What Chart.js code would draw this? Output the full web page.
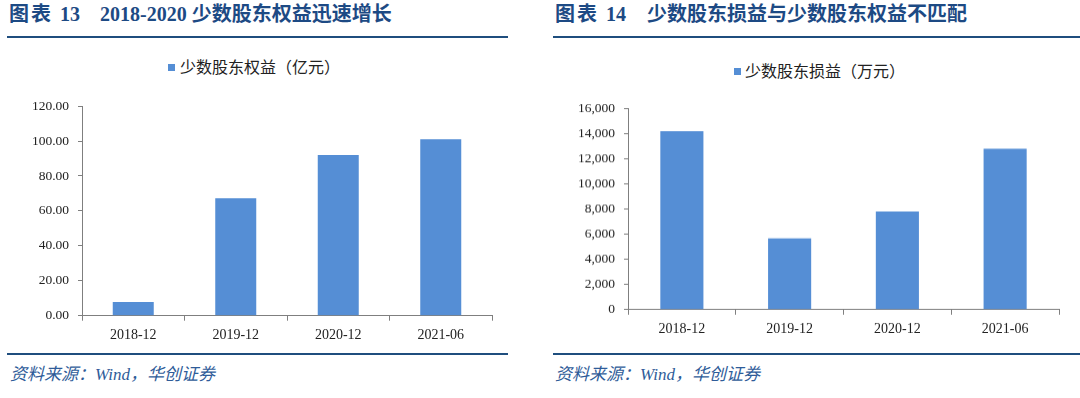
<!DOCTYPE html>
<html>
<head>
<meta charset="utf-8">
<script src="https://cdn.jsdelivr.net/npm/chart.js@4/dist/chart.umd.min.js"></script>
<style>
  body { margin: 0; width: 1080px; height: 398px; background: #fff; position: relative; overflow: hidden; }
  .abs { position: absolute; white-space: nowrap; }
  .title { font-family: "Liberation Serif", "Noto Sans CJK SC", serif; font-weight: bold; font-size: 20px; color: #1d4a84; line-height: 20px; }
  .rule { position: absolute; height: 2px; background: #1f4e7e; }
  .legend { font-family: "Liberation Serif", "Noto Sans CJK SC", serif; font-size: 16px; color: #222; line-height: 16px; }
  .swatch { position: absolute; width: 7px; height: 7px; background: #558ED5; }
  .source { font-family: "Liberation Serif", "Noto Sans CJK SC", serif; font-style: italic; font-size: 17px; color: #2f5c99; line-height: 17px; }
  .box { position: absolute; }
</style>
</head>
<body>
<div class="abs title" style="left:9px;top:4px;letter-spacing:2px;">图表</div>
<div class="abs title" style="left:60px;top:4px;">13</div>
<div class="abs title" style="left:100px;top:4px;">2018-2020 少数股东权益迅速增长</div>
<div class="rule" style="left:7px;top:36px;width:501px;"></div>

<div class="abs title" style="left:555px;top:4px;letter-spacing:2px;">图表</div>
<div class="abs title" style="left:606px;top:4px;">14</div>
<div class="abs title" style="left:647px;top:4px;">少数股东损益与少数股东权益不匹配</div>
<div class="rule" style="left:553px;top:36px;width:527px;"></div>

<div class="swatch" style="left:168px;top:64px;"></div>
<div class="abs legend" id="leg1" style="left:180px;top:60px;"></div>
<div class="swatch" style="left:734px;top:68px;"></div>
<div class="abs legend" id="leg2" style="left:745px;top:64px;"></div>

<div class="box" id="b1" style="left:7px;top:95px;width:501px;height:247px;"><canvas id="c1"></canvas></div>
<div class="box" id="b2" style="left:553px;top:95px;width:527px;height:241px;"><canvas id="c2"></canvas></div>

<div class="rule" style="left:7px;top:353px;width:501px;"></div>
<div class="rule" style="left:553px;top:353px;width:527px;"></div>
<div class="abs source" style="left:10px;top:366px;">资料来源：Wind，华创证券</div>
<div class="abs source" style="left:555px;top:366px;">资料来源：Wind，华创证券</div>

<script>
const periods = ['2018-12', '2019-12', '2020-12', '2021-06'];

// 少数股东权益（亿元）
const equityLabel = '少数股东权益（亿元）';
const equityValues = [7.8, 67.2, 92.0, 101.0];
const equityTicks = [0, 20, 40, 60, 80, 100, 120];

// 少数股东损益（万元）
const profitLabel = '少数股东损益（万元）';
const profitValues = [14170, 5660, 7790, 12780];
const profitTicks = [0, 2000, 4000, 6000, 8000, 10000, 12000, 14000, 16000];

document.getElementById('leg1').textContent = equityLabel;
document.getElementById('leg2').textContent = profitLabel;

const barColor = '#558ED5';
const axisColor = '#7f7f7f';

function makeChart(id, label, values, ticks, fmt, pad) {
    return new Chart(document.getElementById(id), {
        type: 'bar',
        data: {
            labels: periods,
            datasets: [{
                label: label,
                data: values,
                backgroundColor: barColor,
                borderWidth: 0,
                barPercentage: 0.4,
                categoryPercentage: 1.0
            }]
        },
        options: {
            responsive: true,
            maintainAspectRatio: false,
            animation: false,
            layout: { padding: pad },
            plugins: { legend: { display: false }, tooltip: { enabled: false } },
            scales: {
                x: {
                    grid: { offset: true, drawOnChartArea: false, drawTicks: true, tickLength: 5, color: axisColor },
                    border: { color: axisColor, width: 1 },
                    ticks: { font: { family: 'Liberation Serif', size: 14 }, color: '#222', padding: 6, maxRotation: 0 }
                },
                y: {
                    min: ticks[0],
                    max: ticks[ticks.length - 1],
                    afterBuildTicks: scale => { scale.ticks = ticks.map(v => ({ value: v })); },
                    afterFit: scale => { scale.width = 75; },
                    grid: { drawOnChartArea: false, drawTicks: true, tickLength: 4, color: axisColor },
                    border: { color: axisColor, width: 1 },
                    ticks: { font: { family: 'Liberation Serif', size: 13.5 }, color: '#222', padding: 9, callback: fmt }
                }
            }
        }
    });
}

// move/resize the box so the plot area lands where the reference has it
function fitPlot(chart, boxId, top, bottom) {
    const box = document.getElementById(boxId);
    const area = chart.chartArea;
    const h = box.offsetHeight;
    const offTop = area.top;
    const offBottom = h - area.bottom;
    box.style.top = (top - offTop) + 'px';
    box.style.height = (offTop + (bottom - top) + offBottom) + 'px';
    chart.resize();
}

const ch1 = makeChart('c1', equityLabel, equityValues, equityTicks,
    v => v.toFixed(2), { top: 11, right: 16, left: 0, bottom: 0 });
const ch2 = makeChart('c2', profitLabel, profitValues, profitTicks,
    v => v.toLocaleString('en-US'), { top: 13, right: 21, left: 0, bottom: 0 });

fitPlot(ch1, 'b1', 105.7, 315.3);
fitPlot(ch2, 'b2', 108.3, 309);
</script>
</body>
</html>
